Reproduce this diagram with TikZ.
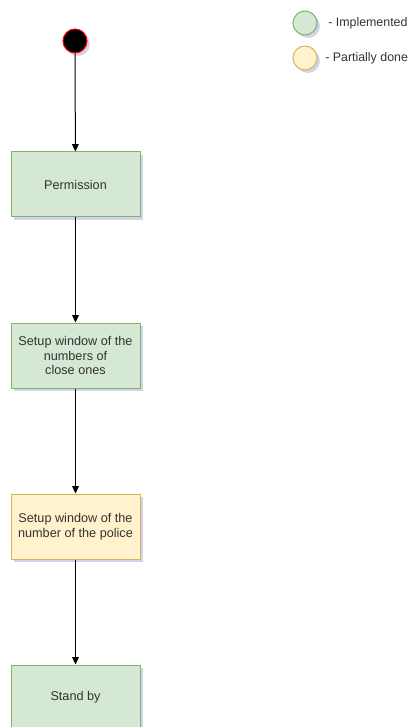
\documentclass[tikz,border=0pt]{standalone}
\usepackage{fontspec}
\setmainfont{Liberation Sans}
\usetikzlibrary{arrows.meta,shadows}
\definecolor{gfill}{HTML}{D5E8D4}
\definecolor{gline}{HTML}{82B366}
\definecolor{yfill}{HTML}{FFF2CC}
\definecolor{yline}{HTML}{D6B656}
\definecolor{txt}{HTML}{333333}
\tikzset{
  px/.style={x=0.75pt,y=-0.75pt},
  sh/.style={drop shadow={shadow xshift=2.2pt,shadow yshift=-2.2pt,opacity=0.25,fill=gray!60!blue}},
  box/.style={draw, line width=0.75pt, minimum width=129*0.75pt, minimum height=65*0.75pt, align=center, font=\fontsize{9.5pt}{11pt}\selectfont, text=txt, inner sep=1pt, sh},
  gbox/.style={box, fill=gfill, draw=gline},
  ybox/.style={box, fill=yfill, draw=yline},
  flow/.style={-{Triangle[length=5.5pt,width=5pt]}, line width=0.75pt},
  leg/.style={circle, draw, line width=0.75pt, minimum size=24*0.75pt, inner sep=0pt, sh},
  legtxt/.style={anchor=west, font=\fontsize{9.3pt}{11pt}\selectfont, text=txt, inner sep=0pt}
}
\begin{document}
\begin{tikzpicture}[px]
\useasboundingbox (0,0) rectangle (414,727);
\node[circle, fill=black, draw=red, line width=0.75pt, minimum size=24*0.75pt, inner sep=0pt, sh] (start) at (75,41) {};
\node[gbox] (perm) at (75.5,184.5) {Permission};
\node[gbox] (close) at (75.5,355.5) {Setup window of the\\numbers of\\close ones};
\node[ybox] (police) at (75.5,526.5) {Setup window of the\\number of the police};
\node[gbox] (stand) at (75.5,697.5) {Stand by};
\draw[flow] (start) -- (perm);
\draw[flow] (perm) -- (close);
\draw[flow] (close) -- (police);
\draw[flow] (police) -- (stand);
\node[leg, fill=gfill, draw=gline] (lg) at (305,23) {};
\node[leg, fill=yfill, draw=yline] (ly) at (305,58) {};
\node[legtxt] (lgt) at (328,23) {- Implemented};
\node[legtxt] (lyt) at (325,58) {- Partially done};
\end{tikzpicture}
\end{document}
